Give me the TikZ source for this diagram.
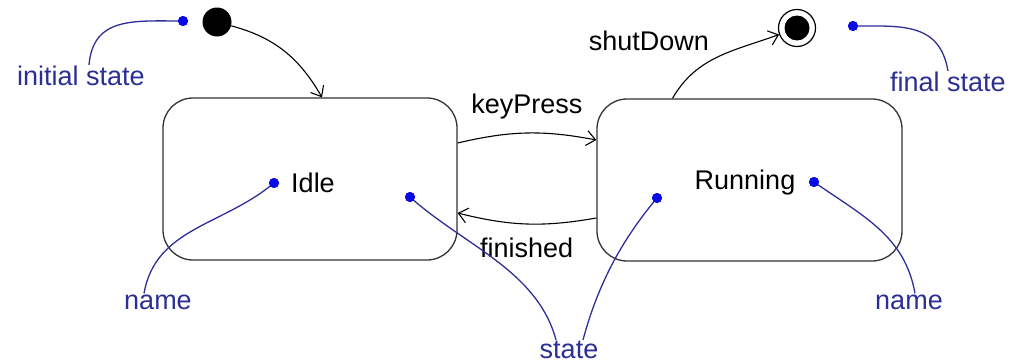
\documentclass[tikz,border=0pt]{standalone}
\usepackage{fontspec}
\setmainfont{Liberation Sans}
\usetikzlibrary{arrows.meta}
\definecolor{udotblue}{HTML}{0A0AE6}
\definecolor{ulineblue}{HTML}{2E2E96}
\definecolor{unoteblue}{HTML}{2B2F94}
\definecolor{ustateline}{HTML}{333333}
\tikzset{ustate/.style={rectangle, rounded corners=30pt, draw=ustateline, line width=1.3pt, minimum height=162pt, inner sep=0pt}}
\tikzset{uinit/.style={circle, fill=black, minimum size=29pt, inner sep=0pt}}
\tikzset{ufinal/.style={circle, draw=black, line width=1.2pt, fill=white, minimum size=37pt, inner sep=0pt, path picture={\fill[black] (path picture bounding box.center) circle (12.5pt);}}}
\tikzset{uedge/.style={-{Straight Barb[length=9pt,width=15pt]}, draw=black, line width=1.1pt}}
\tikzset{ulabel/.style={font=\fontsize{27}{32}\selectfont, inner sep=2pt}}
\tikzset{udot/.style={circle, fill=udotblue, minimum size=10pt, inner sep=0pt}}
\tikzset{unote/.style={font=\fontsize{27}{32}\selectfont, text=unoteblue, inner sep=1pt}}
\tikzset{ulink/.style={draw=ulineblue, line width=1.3pt}}

\begin{document}
\begin{tikzpicture}[x=1pt, y=-1pt]
  \useasboundingbox (0,0) rectangle (1013,364);

  \node[uinit] (init) at (217,22) {};
  \node[ufinal] (final) at (797,28) {};
  \node[ustate, minimum width=294pt] (idle) at (310,179) {};
  \node[ustate, minimum width=305pt] (run) at (749.5,180) {};
  \node[ulabel] (idlename) at (313,183) {Idle};
  \node[ulabel] (runname) at (745,183) {Running};

  \node[unote] (initnote) at (81,76) {initial state};
  \node[unote] (finalnote) at (948,82) {final state};
  \node[unote] (namenotel) at (158,302) {name};
  \node[unote] (namenoter) at (909,302) {name};
  \node[unote] (statenote) at (569,350) {state};

  \draw[uedge] (init) to[out=-15, in=120] ([xshift=12pt]idle.north);
  \draw[uedge] ([yshift=36pt]idle.east) to[bend left=12] node[ulabel, above=11pt] {keyPress} ([yshift=40pt]run.west);
  \draw[uedge] ([yshift=-38pt]run.west) to[bend left=12] node[ulabel, below=11pt] {finished} ([yshift=-34pt]idle.east);
  \draw[uedge] ([xshift=-77pt]run.north) to[out=60, in=200] node[ulabel, pos=0.45, above left=1pt, yshift=5pt] {shutDown} (final);

  % annotations
  \node[udot] (initdot) at (183,21) {};
  \node[udot] (finaldot) at (853,26) {};
  \node[udot] (idledot) at (274,183) {};
  \node[udot] (rundot) at (814,182) {};
  \node[udot] (idlestatedot) at (410,197) {};
  \node[udot] (runstatedot) at (657,198) {};

  \draw[ulink] (initdot.center) to[out=180, in=85, looseness=1.2] ([xshift=8pt]initnote.north);
  \draw[ulink] (finaldot.center) to[out=0, in=100, looseness=1.2] ([xshift=0pt]finalnote.north);
  \draw[ulink] (idledot.center) to[out=220, in=80] ([xshift=-14pt]namenotel.north);
  \draw[ulink] (rundot.center) to[out=-35, in=100] ([xshift=6pt]namenoter.north);
  \draw[ulink] (idlestatedot.center) to[out=-42, in=105, looseness=0.9] ([xshift=-13pt]statenote.north);
  \draw[ulink] (runstatedot.center) to[out=-130, in=75, looseness=0.9] ([xshift=14pt]statenote.north);

  \foreach \d in {initdot, finaldot, idledot, rundot, idlestatedot, runstatedot}
    \node[udot] at (\d) {};
\end{tikzpicture}
\end{document}
